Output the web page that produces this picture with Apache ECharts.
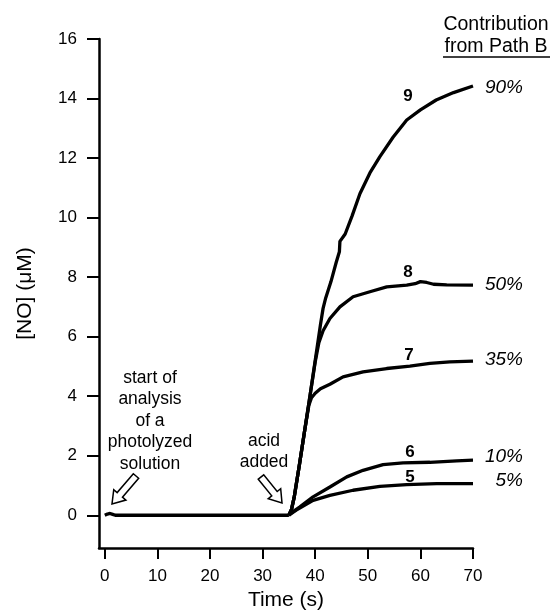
<!DOCTYPE html>
<html>
<head>
<meta charset="utf-8">
<script src="https://cdn.jsdelivr.net/npm/echarts@6/dist/echarts.min.js"></script>
<style>
html,body{margin:0;padding:0;background:#fff;}
#chart{width:553px;height:610px;}
</style>
</head>
<body>
<div id="chart"></div>
<script>
// ---- data ----
const xTicks = [0, 10, 20, 30, 40, 50, 60, 70];
const yTicks = [0, 2, 4, 6, 8, 10, 12, 14, 16];

const baseTime = [0, 0.5, 1, 1.5, 2, 5, 10, 20, 30, 33, 35];
const baseVal  = [0, 0.04, 0.06, 0.03, 0, 0, 0, 0, 0, 0, 0];

const t9 = [35, 35.5, 36, 37, 38, 39, 40, 41, 41.5, 42, 43, 44, 44.6, 44.7, 45.7, 47, 48.5, 50.4, 52.3, 54.8, 57.4, 60, 63, 66.3, 70];
const v9 = [0, 0.2, 0.6, 1.7, 2.85, 4.0, 5.2, 6.4, 6.95, 7.3, 7.85, 8.5, 8.85, 9.2, 9.45, 10.05, 10.8, 11.5, 12.05, 12.7, 13.28, 13.62, 13.95, 14.2, 14.42];

const t8 = [35, 35.5, 36, 37, 38, 39, 40, 40.7, 41.5, 42.8, 44.7, 47.2, 50.4, 53.6, 57.4, 59, 60, 61.2, 62.5, 65, 70];
const v8 = [0, 0.2, 0.6, 1.7, 2.85, 4.0, 5.15, 5.8, 6.2, 6.61, 7.0, 7.34, 7.51, 7.67, 7.73, 7.78, 7.85, 7.82, 7.76, 7.74, 7.73];

const t7 = [35, 35.5, 36, 37, 38, 38.8, 39.3, 40, 41, 42.8, 45.3, 49.1, 53.6, 58, 61.8, 65.6, 70];
const v7 = [0, 0.2, 0.6, 1.7, 2.85, 3.7, 3.95, 4.1, 4.25, 4.4, 4.65, 4.82, 4.93, 5.01, 5.1, 5.15, 5.18];

const t6 = [35, 35.5, 36, 37.1, 39.6, 42.8, 46, 49.1, 52.9, 56.7, 61.8, 66.9, 70];
const v6 = [0, 0.08, 0.15, 0.28, 0.62, 0.95, 1.29, 1.51, 1.7, 1.76, 1.78, 1.83, 1.85];

const t5 = [35, 36.4, 39.6, 42.8, 47.2, 52.3, 57.4, 63.1, 70];
const v5 = [0, 0.17, 0.5, 0.67, 0.84, 0.97, 1.03, 1.06, 1.06];

const curveNames = ['9', '8', '7', '6', '5'];
const contributions = ['90%', '50%', '35%', '10%', '5%'];

// ---- build ----
function pairs(t, v) { return t.map((x, i) => [x, v[i]]); }
const curves = [[t9, v9], [t8, v8], [t7, v7], [t6, v6], [t5, v5]];

const FONT = '"Liberation Sans", Arial, Helvetica, sans-serif';

function arrowPoints(tail, tip, shaftHalf, headHalf, headLen) {
  const dx = tip[0] - tail[0], dy = tip[1] - tail[1];
  const L = Math.hypot(dx, dy);
  const ux = dx / L, uy = dy / L, px = -uy, py = ux;
  const bx = tip[0] - ux * headLen, by = tip[1] - uy * headLen;
  return [
    [tail[0] + px * shaftHalf, tail[1] + py * shaftHalf],
    [bx + px * shaftHalf, by + py * shaftHalf],
    [bx + px * headHalf, by + py * headHalf],
    [tip[0], tip[1]],
    [bx - px * headHalf, by - py * headHalf],
    [bx - px * shaftHalf, by - py * shaftHalf],
    [tail[0] - px * shaftHalf, tail[1] - py * shaftHalf]
  ];
}

const series = [{
  type: 'line', data: pairs(baseTime, baseVal), showSymbol: false, symbol: 'none',
  lineStyle: { color: '#000', width: 3.3 }, silent: true, animation: false
}];
curves.forEach(c => series.push({
  type: 'line', data: pairs(c[0], c[1]), showSymbol: false, symbol: 'none',
  lineStyle: { color: '#000', width: 3.3 }, silent: true, animation: false
}));

const nameLabelPos = [[408, 96], [408, 272], [409, 355], [410, 452], [410, 477]];
const pctPos = [88, 285, 360, 457, 481];

const graphics = [];
curveNames.forEach((n, i) => graphics.push({
  type: 'text', x: nameLabelPos[i][0], y: nameLabelPos[i][1],
  style: { text: n, font: 'bold 17px ' + FONT, fill: '#000', textAlign: 'center', textVerticalAlign: 'middle' }
}));
contributions.forEach((p, i) => graphics.push({
  type: 'text', x: 523, y: pctPos[i],
  style: { text: p, font: 'italic 19px ' + FONT, fill: '#000', textAlign: 'right', textVerticalAlign: 'middle' }
}));
graphics.push({
  type: 'text', x: 496, y: 25,
  style: { text: 'Contribution', font: '19.5px ' + FONT, fill: '#000', textAlign: 'center', textVerticalAlign: 'middle' }
});
graphics.push({
  type: 'text', x: 496, y: 47,
  style: { text: 'from Path B', font: '19.5px ' + FONT, fill: '#000', textAlign: 'center', textVerticalAlign: 'middle' }
});
graphics.push({
  type: 'line', shape: { x1: 443, y1: 57, x2: 550, y2: 57 },
  style: { stroke: '#000', lineWidth: 1.5 }
});
graphics.push({
  type: 'text', x: 150, y: 367,
  style: { text: 'start of\nanalysis\nof a\nphotolyzed\nsolution', font: '17.5px ' + FONT, lineHeight: 21.5,
           fill: '#000', textAlign: 'center', textVerticalAlign: 'top' }
});
graphics.push({
  type: 'text', x: 264, y: 430,
  style: { text: 'acid\nadded', font: '17.5px ' + FONT, lineHeight: 21.5,
           fill: '#000', textAlign: 'center', textVerticalAlign: 'top' }
});
graphics.push({
  type: 'polygon', shape: { points: arrowPoints([136, 476], [112, 504], 3.5, 8, 12) },
  style: { fill: '#fff', stroke: '#000', lineWidth: 1.5 }
});
graphics.push({
  type: 'polygon', shape: { points: arrowPoints([261, 477], [282, 503], 3.5, 8, 12) },
  style: { fill: '#fff', stroke: '#000', lineWidth: 1.5 }
});

const chart = echarts.init(document.getElementById('chart'), null, { renderer: 'canvas' });
chart.setOption({
  animation: false,
  backgroundColor: '#fff',
  grid: { left: 99, right: 80, top: 39, bottom: 62, containLabel: false, outerBoundsMode: 'none' },
  xAxis: {
    type: 'value', min: -1.1, max: 70,
    name: 'Time (s)', nameLocation: 'middle', nameGap: 36,
    nameTextStyle: { fontFamily: FONT, fontSize: 21, color: '#000' },
    axisLine: { show: true, onZero: false, lineStyle: { color: '#000', width: 2.5 } },
    axisTick: { show: true, inside: false, length: 11, customValues: xTicks, lineStyle: { color: '#000', width: 2 } },
    axisLabel: { customValues: xTicks, margin: 20, fontFamily: FONT, fontSize: 17, color: '#000' },
    splitLine: { show: false }
  },
  yAxis: {
    type: 'value', min: -1.1, max: 16,
    name: '[NO] (\u03bcM)', nameLocation: 'middle', nameGap: 63,
    nameTextStyle: { fontFamily: FONT, fontSize: 21, color: '#000' },
    axisLine: { show: true, onZero: false, lineStyle: { color: '#000', width: 2.5 } },
    axisTick: { show: true, inside: false, length: 12, customValues: yTicks, lineStyle: { color: '#000', width: 2 } },
    axisLabel: { customValues: yTicks, margin: 22, fontFamily: FONT, fontSize: 17, color: '#000' },
    splitLine: { show: false }
  },
  series: series,
  graphic: graphics
});
</script>
</body>
</html>
